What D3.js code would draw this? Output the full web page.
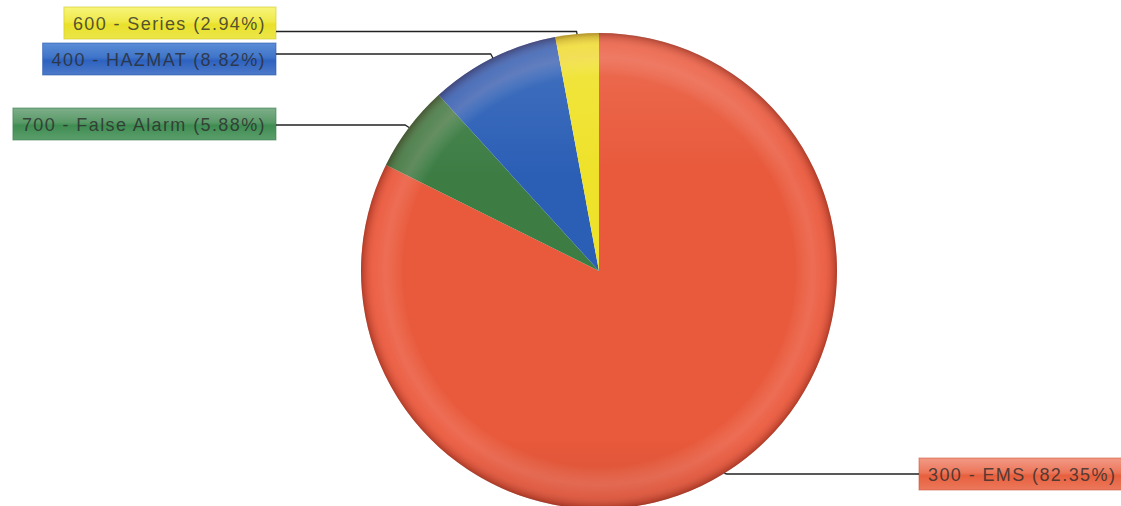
<!DOCTYPE html>
<html>
<head>
<meta charset="utf-8">
<script src="https://cdn.jsdelivr.net/npm/d3@7"></script>
<style>
  html, body { margin: 0; padding: 0; background: #ffffff; }
  svg { display: block; }
</style>
</head>
<body>
<svg id="chart" width="1121" height="506"></svg>
<script>
// ---- data ----
const categories = ["EMS", "False Alarm", "HAZMAT", "Series"];
const codes = ["300", "700", "400", "600"];
const counts = [28, 2, 3, 1];
const sliceColors = ["#e9593b", "#3d7d44", "#2b5fb6", "#efe22a"];
const labelFills = [["#f39a86", "#e8603e"], ["#7fae8a", "#3f8d52"], ["#5b8ed6", "#2d62c0"], ["#f7f57a", "#e9e12a"]];

// ---- layout ----
const W = 1121, H = 506;
const cx = 599, cy = 271, R = 238;
const boxH = 32;
const labelLayout = {
  "EMS": { side: "right", x: 919, y: 458 },
  "False Alarm": { side: "left", x: 276, y: 108 },
  "HAZMAT": { side: "left", x: 276, y: 43 },
  "Series": { side: "left", x: 276, y: 7 }
};
const lineY = { "EMS": 474, "False Alarm": 125, "HAZMAT": 54, "Series": 31.5 };

const svg = d3.select("#chart");
const defs = svg.append("defs");

const total = d3.sum(counts);
const data = categories.map((c, i) => ({ name: c, code: codes[i], value: counts[i], color: sliceColors[i], fill: labelFills[i] }));

const pie = d3.pie().value(d => d.value).sort(null);
const arc = d3.arc().innerRadius(0).outerRadius(R);
const arcs = pie(data);

// rim gradient
const rg = defs.append("radialGradient").attr("id", "rim")
  .attr("gradientUnits", "userSpaceOnUse").attr("cx", cx).attr("cy", cy).attr("r", R);
[[0, "#ffffff", 0], [0.82, "#ffffff", 0], [0.9, "#ffc8c8", 0.18], [0.95, "#ffb0b0", 0.1], [0.985, "#6a2020", 0.22], [1, "#501010", 0.4]]
  .forEach(s => rg.append("stop").attr("offset", s[0]).attr("stop-color", s[1]).attr("stop-opacity", s[2]));

// top highlight
const lg = defs.append("linearGradient").attr("id", "tophl")
  .attr("gradientUnits", "userSpaceOnUse").attr("x1", 0).attr("y1", cy - R).attr("x2", 0).attr("y2", cy + R);
[[0, "#ffffff", 0.12], [0.3, "#ffffff", 0.0], [0.85, "#000000", 0.0], [1, "#000000", 0.08]]
  .forEach(s => lg.append("stop").attr("offset", s[0]).attr("stop-color", s[1]).attr("stop-opacity", s[2]));

// label gradients
data.forEach((d, i) => {
  const g = defs.append("linearGradient").attr("id", "lab" + i)
    .attr("x1", 0).attr("y1", 0).attr("x2", 0).attr("y2", 1);
  g.append("stop").attr("offset", 0).attr("stop-color", d.fill[0]);
  g.append("stop").attr("offset", 0.45).attr("stop-color", d3.interpolateRgb(d.fill[0], d.fill[1])(0.6));
  g.append("stop").attr("offset", 0.55).attr("stop-color", d.fill[1]);
  g.append("stop").attr("offset", 1).attr("stop-color", d3.interpolateRgb(d.fill[1], "#ffffff")(0.15));
});

const gPie = svg.append("g").attr("transform", `translate(${cx},${cy})`);
gPie.selectAll("path.slice").data(arcs).enter().append("path")
  .attr("class", "slice")
  .attr("d", arc)
  .attr("fill", d => d.data.color);

svg.append("circle").attr("cx", cx).attr("cy", cy).attr("r", R).attr("fill", "url(#tophl)");
svg.append("circle").attr("cx", cx).attr("cy", cy).attr("r", R).attr("fill", "url(#rim)");

// labels + leaders
const gLab = svg.append("g");
arcs.forEach((a, i) => {
  const d = a.data;
  const mid = (a.startAngle + a.endAngle) / 2;
  const ex = cx + R * Math.sin(mid), ey = cy - R * Math.cos(mid);
  const kx = cx + (R + 5) * Math.sin(mid);
  const ly = lineY[d.name];
  const L = labelLayout[d.name];
  const pct = (d.value / total * 100).toFixed(2);
  const txt = `${d.code} - ${d.name} (${pct}%)`;

  const g = gLab.append("g");
  const t = g.append("text")
    .attr("font-family", "Liberation Sans, Arial, sans-serif")
    .attr("font-size", 18)
    .attr("letter-spacing", 1.4)
    .attr("fill", "#2b2b2b")
    .attr("fill-opacity", 0.8)
    .attr("dominant-baseline", "central")
    .text(txt);
  const tw = t.node().getComputedTextLength();
  const bw = tw + 19;
  const bx = L.side === "left" ? L.x - bw : L.x;
  g.insert("rect", "text")
    .attr("x", bx).attr("y", L.y).attr("width", bw).attr("height", boxH)
    .attr("fill", "url(#lab" + i + ")")
    .attr("stroke", d3.color(d.fill[1]).darker(0.3))
    .attr("stroke-opacity", 0.6)
    .attr("stroke-width", 1);
  t.attr("x", bx + 9).attr("y", L.y + boxH / 2 + 1);

  svg.append("path")
    .attr("d", `M${ex},${ey}L${kx},${ly}L${L.x},${ly}`)
    .attr("fill", "none")
    .attr("stroke", "#222")
    .attr("stroke-width", 1.3);
});
</script>
</body>
</html>
